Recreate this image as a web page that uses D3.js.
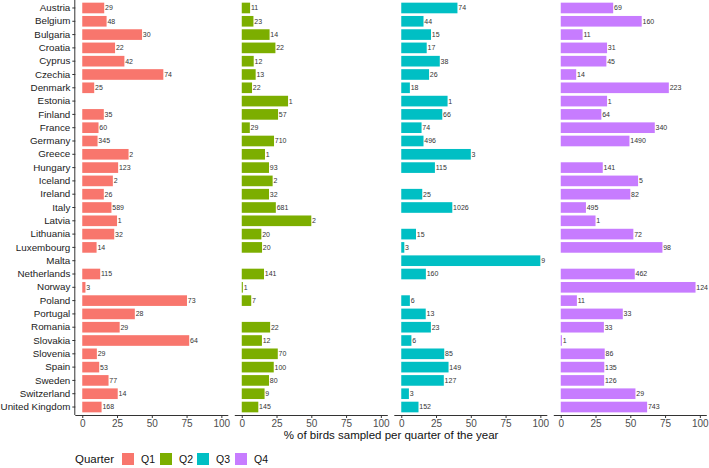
<!DOCTYPE html>
<html>
<head>
<meta charset="utf-8">
<script src="https://cdn.jsdelivr.net/npm/d3@7"></script>
<style>
  body { margin: 0; background: #fff; }
  svg { display: block; font-family: "Liberation Sans", Arial, sans-serif; }
</style>
</head>
<body>
<svg id="chart" width="709" height="468"></svg>
<script>
const countries = ["Austria","Belgium","Bulgaria","Croatia","Cyprus","Czechia","Denmark","Estonia","Finland","France","Germany","Greece","Hungary","Iceland","Ireland","Italy","Latvia","Lithuania","Luxembourg","Malta","Netherlands","Norway","Poland","Portugal","Romania","Slovakia","Slovenia","Spain","Sweden","Switzerland","United Kingdom"];

const quarters = ["Q1","Q2","Q3","Q4"];
const quarterColors = ["#F8766D","#7CAE00","#00BFC4","#C77CFF"];

// % of birds sampled per quarter (null = no birds sampled)
const pctQ1 = [15.8,17.5,43,23.6,30.3,58.3,8.6,null,15.5,11.7,11,33.3,25.8,22,15.5,21,25,23,10.3,null,12.9,2.3,75.3,37.8,26.9,76.9,10.5,12.2,18.9,25.5,13.9];
const pctQ2 = [6,8.4,20,24.2,8.6,10,7.4,33.3,26.1,5.8,23.2,16.7,19.6,22.2,19.6,24.5,50,14.1,14.6,null,16,0.8,6.8,null,20.4,14.5,25.9,23,19.6,16.4,11.9];
const pctQ3 = [40.4,16,21.4,18.3,27.7,20,6.2,33.3,29.5,14.6,16,50,24.2,null,15.1,36.7,null,10.6,2.2,100,17.7,null,6.2,17.6,21.3,7.3,30.9,34,30.6,5.5,12.4];
const pctQ4 = [37.7,58.2,15.7,33.3,32.8,11.1,77.7,33.3,29.2,67.6,49.4,null,30.2,55.6,50,18.1,25,52.2,73.1,null,53.2,96.9,11.6,44.6,31,0.8,31.6,31.3,31.2,53.7,62.1];

// number of birds sampled (bar labels)
const nQ1 = [29,48,30,22,42,74,25,null,35,60,345,2,123,2,26,589,1,32,14,null,115,3,73,28,29,64,29,53,77,14,168];
const nQ2 = [11,23,14,22,12,13,22,1,57,29,710,1,93,2,32,681,2,20,20,null,141,1,7,null,22,12,70,100,80,9,145];
const nQ3 = [74,44,15,17,38,26,18,1,66,74,496,3,115,null,25,1026,null,15,3,9,160,null,6,13,23,6,85,149,127,3,152];
const nQ4 = [69,160,11,31,45,14,223,1,64,340,1490,null,141,5,82,495,1,72,98,null,462,124,11,33,33,1,86,135,126,29,743];

const xTicks = [0,25,50,75,100];
const xTitle = "% of birds sampled per quarter of the year";
const legendTitle = "Quarter";

const pcts = [pctQ1,pctQ2,pctQ3,pctQ4];
const counts = [nQ1,nQ2,nQ3,nQ4];

const svg = d3.select("#chart");
const panelW = 153, gap = 6.5, left0 = 75.3, panelTop = 0, panelBottom = 415;

const y = d3.scaleBand().domain(countries).range([panelTop, panelBottom]).paddingInner(0.2).paddingOuter(0.2);

// y axis (first panel only)
const yAxis = d3.axisLeft(y).tickSize(3).tickPadding(2);
const gy = svg.append("g").attr("transform", `translate(${left0},0)`).call(yAxis);
gy.select(".domain").attr("stroke", "#333").attr("stroke-width", 1).attr("d", `M-0.5,${panelTop}V${panelBottom}`);
gy.selectAll(".tick line").attr("stroke", "#333");
gy.selectAll(".tick text").attr("fill", "#222").style("font-size", "9.8px");

quarters.forEach((q, qi) => {
  const p0 = left0 + qi * (panelW + gap);
  const x = d3.scaleLinear().domain([-5, 105]).range([p0, p0 + panelW]);
  const g = svg.append("g");
  const rows = countries.map((c, i) => ({c, v: pcts[qi][i], n: counts[qi][i]})).filter(d => d.v !== null);

  g.selectAll("rect").data(rows).join("rect")
    .attr("x", x(0))
    .attr("y", d => y(d.c))
    .attr("width", d => x(d.v) - x(0))
    .attr("height", y.bandwidth())
    .attr("fill", quarterColors[qi]);

  g.selectAll("text.lab").data(rows).join("text")
    .attr("class", "lab")
    .attr("x", d => x(d.v) + 0.8)
    .attr("y", d => y(d.c) + y.bandwidth() / 2)
    .attr("dy", "0.35em")
    .attr("fill", "#333")
    .style("font-size", "7px")
    .text(d => d.n);

  const xAxis = d3.axisBottom(x).tickValues(xTicks).tickSize(3).tickPadding(2);
  const gx = svg.append("g").attr("transform", `translate(0,${panelBottom})`).call(xAxis);
  gx.select(".domain").attr("stroke", "#333").attr("d", `M${p0},0.5H${p0 + panelW}`);
  gx.selectAll(".tick line").attr("stroke", "#333");
  gx.selectAll(".tick text").attr("fill", "#4d4d4d").style("font-size", "10px");
});

svg.append("text")
  .attr("x", left0 + (4 * panelW + 3 * gap) / 2)
  .attr("y", 439)
  .attr("text-anchor", "middle")
  .attr("fill", "#111")
  .style("font-size", "11.5px")
  .text(xTitle);

// legend
const lg = svg.append("g").attr("transform", "translate(0,459)");
lg.append("text").attr("x", 75).attr("y", 0).attr("dy", "0.35em").style("font-size", "11.5px").attr("fill", "#111").text(legendTitle);
const keyX = [122, 160, 197, 235];
quarters.forEach((q, qi) => {
  lg.append("rect").attr("x", keyX[qi]).attr("y", -6).attr("width", 12).attr("height", 12).attr("fill", quarterColors[qi]);
  lg.append("text").attr("x", keyX[qi] + 19).attr("y", 0).attr("dy", "0.35em").style("font-size", "10.5px").attr("fill", "#111").text(q);
});
</script>
</body>
</html>
